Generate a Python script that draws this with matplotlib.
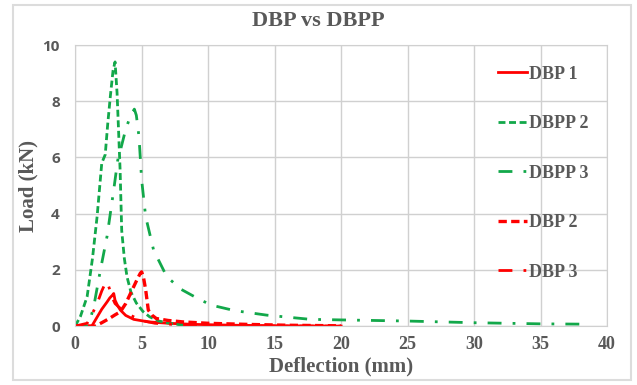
import matplotlib
matplotlib.use('Agg')
import matplotlib.pyplot as plt
from matplotlib.patches import Rectangle

# Data (deflection mm, load kN)
dbp1_x = [0, 1.25, 1.6, 2.0, 2.4, 2.6, 2.8, 2.9, 3.0, 3.2, 3.4, 3.8, 4.4, 5.5, 7.0, 9.0, 12.0, 16.0, 20.0]
dbp1_y = [0, 0, 0.28, 0.6, 0.86, 1.0, 1.1, 1.16, 0.92, 0.72, 0.57, 0.38, 0.24, 0.15, 0.1, 0.06, 0.03, 0.01, 0.0]

dbpp2_x = [0, 0.4, 0.9, 1.3, 1.65, 2.0, 2.26, 2.45, 2.65, 2.85, 3.0, 3.15, 3.26, 3.38, 3.5, 3.7, 3.9, 4.2, 4.6, 5.1, 5.6, 6.3, 7.1, 8.0, 9.0]
dbpp2_y = [0, 0.35, 1.05, 2.4, 3.9, 5.8, 6.1, 7.2, 8.2, 9.1, 9.4, 8.3, 7.0, 5.55, 3.4, 2.4, 1.75, 1.2, 0.82, 0.52, 0.33, 0.18, 0.1, 0.04, 0.0]

dbpp3_x = [0, 1.0, 1.4, 1.9, 2.4, 2.9, 3.2, 3.4, 3.8, 4.1, 4.3, 4.45, 4.6, 4.8, 5.0, 5.3, 5.9, 6.9, 8.0, 9.0, 10.2, 12.0, 14.4, 17.7, 20.0, 25.0, 30.0, 35.0, 38.0]
dbpp3_y = [0, 0, 0.7, 2.0, 3.2, 4.85, 5.9, 6.25, 7.0, 7.4, 7.6, 7.72, 7.5, 6.74, 5.2, 3.9, 2.7, 1.75, 1.3, 1.04, 0.75, 0.55, 0.39, 0.24, 0.22, 0.18, 0.12, 0.08, 0.07]

dbp2_x = [0, 1.5, 2.0, 2.6, 3.0, 3.4, 3.8, 4.1, 4.4, 4.7, 4.9, 5.0, 5.15, 5.3, 5.5, 5.8, 6.1, 7.0, 8.1, 10.0, 13.0, 16.0, 20.0]
dbp2_y = [0, 0, 0.12, 0.28, 0.4, 0.51, 0.8, 1.1, 1.4, 1.7, 1.88, 1.93, 1.7, 1.3, 0.57, 0.38, 0.27, 0.2, 0.15, 0.1, 0.06, 0.03, 0.01]

dbp3_x = [0, 0.9, 1.3, 1.65, 2.0, 2.26, 2.4, 2.6, 2.8, 3.0, 3.26, 3.6, 4.0, 4.4, 5.0, 6.0, 8.0, 12.0, 16.0, 20.0]
dbp3_y = [0, 0.1, 0.45, 0.8, 1.25, 1.52, 1.58, 1.3, 1.0, 0.8, 0.69, 0.55, 0.42, 0.33, 0.2, 0.1, 0.04, 0.01, 0.0, 0.0]

GREEN = '#12a84a'
RED = '#ff0000'
GREY = '#595959'

fig = plt.figure(figsize=(6.37, 3.85), dpi=100)
fig.patches.append(Rectangle((0.021, 0.012), 0.97, 0.975, transform=fig.transFigure,
                             fill=False, edgecolor='#dcdcdc', linewidth=1.5))
ax = fig.add_axes([0.118, 0.153, 0.835, 0.73])

ax.plot(dbp1_x, dbp1_y, color=RED, lw=2.0, label='DBP 1')
ax.plot(dbpp2_x, dbpp2_y, color=GREEN, lw=2.0, dashes=(2.5, 1.3), label='DBPP 2')
ax.plot(dbpp3_x, dbpp3_y, color=GREEN, lw=2.0, dashes=(5, 4, 1, 4), label='DBPP 3')
ax.plot(dbp2_x, dbp2_y, color=RED, lw=2.4, dashes=(2.5, 1.3), label='DBP 2')
ax.plot(dbp3_x, dbp3_y, color=RED, lw=2.0, dashes=(5, 4, 1, 4), label='DBP 3')

ax.set_xlim(0, 40)
ax.set_ylim(0, 10)
ax.set_xticks(range(0, 41, 5))
ax.set_yticks(range(0, 11, 2))
ax.grid(True, color='#d0d0d0', lw=1)
ax.set_axisbelow(True)
for s in ax.spines.values():
    s.set_color('#d0d0d0')
ax.tick_params(length=0)
ax.tick_params(axis='x', pad=7)
ax.tick_params(axis='y', pad=11)
for lbl in ax.get_xticklabels():
    lbl.set_fontfamily('Liberation Serif')
    lbl.set_fontweight('bold')
    lbl.set_fontsize(13)
    lbl.set_color(GREY)
for lbl in ax.get_yticklabels():
    lbl.set_fontfamily('Open Sans')
    lbl.set_fontweight('bold')
    lbl.set_fontsize(11)
    lbl.set_color(GREY)

ax.set_xlabel('Deflection (mm)', fontfamily='Liberation Serif', fontweight='bold',
              fontsize=15, color=GREY, labelpad=3)
ax.set_ylabel('Load (kN)', fontfamily='Liberation Serif', fontweight='bold',
              fontsize=15, color=GREY, labelpad=3)
fig.text(0.5, 0.945, 'DBP vs DBPP', ha='center', va='center', fontfamily='Liberation Serif',
         fontweight='bold', fontsize=16, color=GREY)

leg = ax.legend(loc='upper left', bbox_to_anchor=(0.765, 0.985), frameon=False,
                handlelength=1.6, handletextpad=0.1, labelspacing=1.8,
                prop={'family': 'Liberation Serif', 'weight': 'bold', 'size': 13})
for t in leg.get_texts():
    t.set_color(GREY)

fig.savefig('out.png', dpi=100)
